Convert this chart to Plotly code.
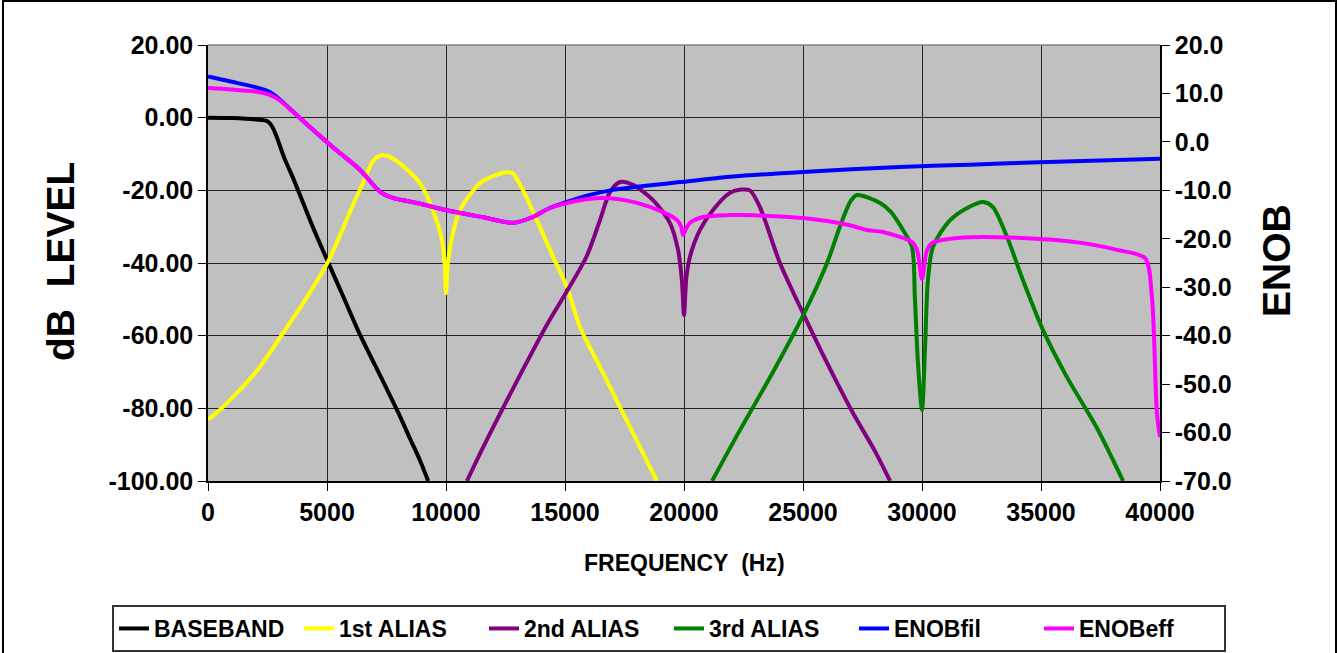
import plotly.graph_objects as go

# ---------------- data ----------------
bb_x = [0, 1000, 2000, 2500, 2700, 2900, 3200, 3600, 4000, 4400, 5040, 5700, 6390, 7350, 7980, 8500, 8900, 9250]
bb_y = [0, -0.1, -0.5, -1.0, -2.5, -5.5, -11.0, -17.0, -23.5, -30.0, -39.7, -49.5, -59.8, -72.5, -81.0, -88.5, -94.2, -100]

a1_x = [0, 80, 1050, 2180, 3150, 4160, 5040, 5670, 6180, 6510, 6930, 7300, 7700, 8190, 8900, 9450, 9830, 9950, 10000,
        10080, 10250, 10590, 11430, 12000, 12560, 12800, 13230, 13820, 14500, 15080, 15630, 16500, 17300, 18100, 18860]
a1_y = [-83, -82.7, -76.9, -68.6, -59.3, -49.4, -39.7, -30.5, -22.7, -18.0, -12.0, -10.3, -11.0, -13.3, -18.0, -25.4, -33.7, -41.0, -48.3,
        -40.0, -33.0, -25.4, -18.0, -16.0, -15.0, -15.3, -19.9, -28.2, -38.3, -46.6, -57.6, -69.0, -79.5, -90.0, -100]

a2_x = [10880, 11500, 12270, 13100, 14240, 15080, 15920, 16470, 16890, 17310, 17860, 18700, 19410, 19750, 19910, 20000,
        20100, 20250, 20670, 21220, 21930, 22400, 22770, 23190, 24030, 25000, 26010, 27100, 28000, 28660]
a2_y = [-100, -91.5, -81.5, -71.0, -57.0, -47.8, -38.0, -28.2, -20.5, -17.7, -18.5, -22.7, -29.0, -36.4, -44.7, -54.3,
        -44.0, -38.3, -30.9, -25.4, -20.7, -19.8, -20.0, -24.6, -40.0, -53.8, -67.5, -81.3, -91.5, -100]

a3_x = [21180, 22350, 23740, 25000, 26010, 26550, 27000, 27270, 28240, 28700, 29200, 29580, 29700, 29830, 30000,
        30130, 30250, 30460, 31180, 32000, 32560, 32980, 33570, 34240, 35080, 36090, 37350, 38450]
a3_y = [-100, -86, -70.0, -54.5, -40.0, -30.0, -23.0, -21.3, -23.5, -26.0, -30.9, -35.6, -49.4, -67.5, -80.5,
        -63.1, -44.7, -35.6, -28.2, -24.5, -23.2, -24.6, -32.8, -44.7, -58.4, -71.4, -85.4, -100]

fil_x = [0, 1000, 2000, 2600, 3000, 3870, 5250, 6390, 7230, 7800, 8780, 10040, 11500, 12820, 13650, 14300, 15080,
         16000, 17020, 18500, 19830, 21930, 25000, 29070, 32000, 34950, 40000]
fil_y = [13.5, 12.4, 11.3, 10.3, 8.8, 4.9, -1.1, -5.8, -10.3, -11.6, -12.6, -14.1, -15.5, -16.7, -15.5, -13.8, -12.4,
         -11.0, -9.9, -9.0, -8.3, -7.2, -6.2, -5.2, -4.7, -4.2, -3.5]

eff_x = [0, 1000, 2000, 2600, 3000, 3870, 5250, 6390, 7230, 7800, 8780, 10040, 11500, 12820, 13650, 14300, 15080,
         16470, 17200, 18030, 19120, 19700, 19880, 19960, 20080, 20250, 20800, 21930, 22350, 25000, 26970, 27690,
         28360, 29580, 29800, 30000, 30200, 30420, 31600, 33990, 36760, 38190, 39370, 39660, 39870, 40000]
eff_y = [11.1, 10.8, 10.4, 9.7, 8.6, 4.9, -1.1, -5.8, -10.3, -11.6, -12.6, -14.1, -15.5, -16.7, -15.5, -13.8, -12.6,
         -11.6, -11.8, -12.6, -14.5, -16.1, -17.5, -19.2, -18.0, -16.7, -15.5, -15.1, -15.1, -15.7, -17.2, -18.2,
         -18.6, -20.7, -22.5, -28.3, -22.5, -20.9, -19.8, -19.8, -20.9, -22.3, -24.0, -32.0, -56.0, -60.9]

left_ticks = [20, 0, -20, -40, -60, -80, -100]
left_labels = ["20.00", "0.00", "-20.00", "-40.00", "-60.00", "-80.00", "-100.00"]
right_ticks = [20, 10, 0, -10, -20, -30, -40, -50, -60, -70]
right_labels = ["20.0", "10.0", "0.0", "-10.0", "-20.0", "-30.0", "-40.0", "-50.0", "-60.0", "-70.0"]
x_ticks = [0, 5000, 10000, 15000, 20000, 25000, 30000, 35000, 40000]

FONT = "Arial, Liberation Sans, sans-serif"

fig = go.Figure()
series = [
    ("BASEBAND", bb_x, bb_y, "#000000", "y"),
    ("1st ALIAS", a1_x, a1_y, "#FFFF00", "y"),
    ("2nd ALIAS", a2_x, a2_y, "#800080", "y"),
    ("3rd ALIAS", a3_x, a3_y, "#008000", "y"),
    ("ENOBfil", fil_x, fil_y, "#0000FF", "y2"),
    ("ENOBeff", eff_x, eff_y, "#FF00FF", "y2"),
]
for name, xs, ys, col, ax in series:
    fig.add_trace(go.Scatter(x=xs, y=ys, name=name, mode="lines", yaxis=ax,
                             line=dict(color=col, width=4, shape="spline", smoothing=0.8)))

tickfont = dict(family=FONT, size=25, color="black", weight="bold")

fig.update_layout(
    width=1338, height=653,
    margin=dict(l=208, r=178, t=45, b=172, autoexpand=False),
    plot_bgcolor="#C0C0C0", paper_bgcolor="white",
    showlegend=True,
    legend=dict(orientation="h", xref="paper", yref="paper", x=(112 - 208) / 952, y=(481 - 605) / 436,
                xanchor="left", yanchor="top", bgcolor="white", bordercolor="#333333", borderwidth=2,
                font=dict(family=FONT, size=23, color="black", weight="bold"),
                itemwidth=30, tracegroupgap=0, entrywidth=140, entrywidthmode="pixels"),
    xaxis=dict(range=[0, 40000], tickvals=x_ticks, ticktext=[str(v) for v in x_ticks],
               showgrid=True, gridcolor="#222222", gridwidth=1, zeroline=False,
               showline=True, linecolor="black", linewidth=1.5, automargin=False,
               ticks="outside", ticklen=8, tickcolor="black", tickfont=tickfont),
    yaxis=dict(range=[-100, 20], tickvals=left_ticks, ticktext=left_labels,
               showgrid=True, gridcolor="#222222", gridwidth=1, zeroline=False,
               showline=True, linecolor="black", linewidth=1.5, automargin=False,
               ticks="outside", ticklen=8, tickcolor="black", tickfont=tickfont),
    yaxis2=dict(range=[-70, 20], tickvals=right_ticks, ticktext=right_labels, overlaying="y", side="right",
                showgrid=False, zeroline=False, showline=True, linecolor="black", linewidth=1.5, automargin=False,
                ticks="outside", ticklen=8, tickcolor="black", tickfont=tickfont),
)

fig.add_annotation(text="FREQUENCY\u00a0\u00a0(Hz)", xref="paper", yref="paper", x=(684 - 208) / 952,
                   y=(481 - 563) / 436, showarrow=False, xanchor="center", yanchor="middle",
                   font=dict(family=FONT, size=23, color="black", weight="bold"))
fig.add_annotation(text="dB\u00a0\u00a0LEVEL", xref="paper", yref="paper", x=(60 - 208) / 952,
                   y=(481 - 262) / 436, showarrow=False, textangle=-90, xanchor="center", yanchor="middle",
                   font=dict(family=FONT, size=39, color="black", weight="bold"))
fig.add_annotation(text="ENOB", xref="paper", yref="paper", x=(1276 - 208) / 952,
                   y=(481 - 261) / 436, showarrow=False, textangle=-90, xanchor="center", yanchor="middle",
                   font=dict(family=FONT, size=39, color="black", weight="bold"))

# outer chart frame and grey top edge of plot area
fig.add_shape(type="rect", xref="paper", yref="paper", x0=(3 - 208) / 952, x1=(1336 - 208) / 952,
              y0=(481 - 700) / 436, y1=(481 - 1) / 436, line=dict(color="black", width=2), layer="below")
fig.add_shape(type="line", xref="paper", yref="paper", x0=0, x1=1, y0=1, y1=1,
              line=dict(color="#808080", width=1.5))

fig.write_html("out.html")
